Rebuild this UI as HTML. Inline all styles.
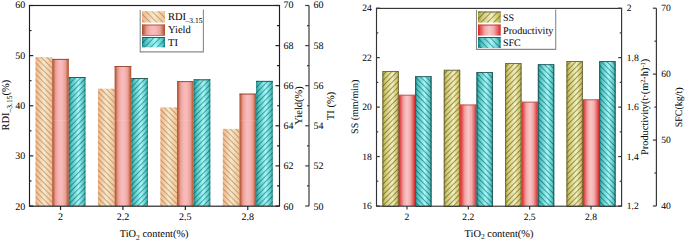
<!DOCTYPE html>
<html><head><meta charset="utf-8"><style>
html,body{margin:0;padding:0;background:#fff;}
body{width:685px;height:242px;overflow:hidden;}
svg{display:block;}
text{font-family:"Liberation Serif", serif;fill:#0a0a0a;stroke:#0a0a0a;stroke-width:0.05px;text-rendering:geometricPrecision;}
</style></head><body>
<svg width="685" height="242" viewBox="0 0 685 242">
<defs>
<linearGradient id="gOr" x1="0" x2="1" y1="0" y2="0">
 <stop offset="0" stop-color="#f4b482"/><stop offset="0.5" stop-color="#fbe7c6"/><stop offset="1" stop-color="#f5c292"/></linearGradient>
<linearGradient id="gYi" x1="0" x2="1" y1="0" y2="0">
 <stop offset="0" stop-color="#ac4e26"/><stop offset="0.08" stop-color="#c66646"/><stop offset="0.2" stop-color="#e89c94"/><stop offset="0.35" stop-color="#f4b3b1"/><stop offset="0.5" stop-color="#f8bcbc"/><stop offset="0.65" stop-color="#f4b3b1"/><stop offset="0.8" stop-color="#e89e96"/><stop offset="0.92" stop-color="#c66a4a"/><stop offset="1" stop-color="#ac5026"/></linearGradient>
<linearGradient id="gTe" x1="0" x2="1" y1="0" y2="0">
 <stop offset="0" stop-color="#1a8686"/><stop offset="0.15" stop-color="#4cc4c4"/><stop offset="0.58" stop-color="#a2fafa"/><stop offset="0.88" stop-color="#56caca"/><stop offset="1" stop-color="#1a8282"/></linearGradient>
<linearGradient id="gSS" x1="0" x2="1" y1="0" y2="0">
 <stop offset="0" stop-color="#aca032"/><stop offset="0.18" stop-color="#d2ca72"/><stop offset="0.6" stop-color="#f4f0ba"/><stop offset="0.88" stop-color="#d0c66a"/><stop offset="1" stop-color="#aa9e30"/></linearGradient>
<linearGradient id="gPr" x1="0" x2="1" y1="0" y2="0">
 <stop offset="0" stop-color="#d41e1e"/><stop offset="0.12" stop-color="#e25a5a"/><stop offset="0.3" stop-color="#f2a8a8"/><stop offset="0.5" stop-color="#f9c6c6"/><stop offset="0.7" stop-color="#f2aaaa"/><stop offset="0.88" stop-color="#e25e5e"/><stop offset="1" stop-color="#d42424"/></linearGradient>
<pattern id="lBackOr" patternUnits="userSpaceOnUse" width="4.5" height="4" patternTransform="rotate(-45)"><line x1="0.5" y1="0" x2="0.5" y2="4" stroke="#766a58" stroke-width="0.65" stroke-opacity="0.8"/></pattern>
<pattern id="lFwdTe" patternUnits="userSpaceOnUse" width="4.5" height="4" patternTransform="rotate(45)"><line x1="0.5" y1="0" x2="0.5" y2="4" stroke="#0b3636" stroke-width="0.65" stroke-opacity="0.75"/></pattern>
<pattern id="lFwdSS" patternUnits="userSpaceOnUse" width="4.5" height="4" patternTransform="rotate(45)"><line x1="0.5" y1="0" x2="0.5" y2="4" stroke="#33300f" stroke-width="0.65" stroke-opacity="0.75"/></pattern>
<pattern id="lBackTe" patternUnits="userSpaceOnUse" width="4.5" height="4" patternTransform="rotate(-45)"><line x1="0.5" y1="0" x2="0.5" y2="4" stroke="#0b3232" stroke-width="0.65" stroke-opacity="0.75"/></pattern>
<pattern id="hBackOr" patternUnits="userSpaceOnUse" width="3.95" height="4" patternTransform="rotate(-45)"><line x1="0.5" y1="0" x2="0.5" y2="4" stroke="#766a58" stroke-width="0.65" stroke-opacity="0.75"/></pattern>
<pattern id="hFwdTe" patternUnits="userSpaceOnUse" width="3.85" height="4" patternTransform="rotate(45)"><line x1="0.5" y1="0" x2="0.5" y2="4" stroke="#0b3636" stroke-width="0.65" stroke-opacity="0.75"/></pattern>
<pattern id="hFwdSS" patternUnits="userSpaceOnUse" width="3.85" height="4" patternTransform="rotate(45)"><line x1="0.5" y1="0" x2="0.5" y2="4" stroke="#33300f" stroke-width="0.65" stroke-opacity="0.75"/></pattern>
<pattern id="hBackTe" patternUnits="userSpaceOnUse" width="3.85" height="4" patternTransform="rotate(-45)"><line x1="0.5" y1="0" x2="0.5" y2="4" stroke="#0b3232" stroke-width="0.65" stroke-opacity="0.75"/></pattern>
</defs>
<rect x="35.54" y="57.1" width="16.65" height="148.9" fill="url(#gOr)"/><rect x="35.54" y="57.1" width="16.65" height="148.9" fill="url(#hBackOr)"/>
<rect x="52.19" y="58.9" width="16.65" height="147.1" fill="url(#gYi)"/><line x1="52.19" x2="68.84" y1="59.4" y2="59.4" stroke="#96503a" stroke-width="1"/>
<rect x="52.19" y="119.9" width="16.65" height="0.8" fill="#fff" fill-opacity="0.13"/>
<rect x="68.84" y="77" width="16.65" height="129" fill="url(#gTe)"/><rect x="68.84" y="77" width="16.65" height="129" fill="url(#hFwdTe)"/><line x1="68.84" x2="85.48" y1="77.5" y2="77.5" stroke="#2a5c5c" stroke-width="1"/>
<rect x="97.97" y="88.7" width="16.65" height="117.3" fill="url(#gOr)"/><rect x="97.97" y="88.7" width="16.65" height="117.3" fill="url(#hBackOr)"/>
<rect x="114.61" y="66" width="16.65" height="140" fill="url(#gYi)"/><line x1="114.61" x2="131.26" y1="66.5" y2="66.5" stroke="#96503a" stroke-width="1"/>
<rect x="114.61" y="119.9" width="16.65" height="0.8" fill="#fff" fill-opacity="0.13"/>
<rect x="131.26" y="78" width="16.65" height="128" fill="url(#gTe)"/><rect x="131.26" y="78" width="16.65" height="128" fill="url(#hFwdTe)"/><line x1="131.26" x2="147.91" y1="78.5" y2="78.5" stroke="#2a5c5c" stroke-width="1"/>
<rect x="160.39" y="107.4" width="16.65" height="98.6" fill="url(#gOr)"/><rect x="160.39" y="107.4" width="16.65" height="98.6" fill="url(#hBackOr)"/>
<rect x="177.04" y="81.1" width="16.65" height="124.9" fill="url(#gYi)"/><line x1="177.04" x2="193.69" y1="81.6" y2="81.6" stroke="#96503a" stroke-width="1"/>
<rect x="177.04" y="119.9" width="16.65" height="0.8" fill="#fff" fill-opacity="0.13"/>
<rect x="193.69" y="79.3" width="16.65" height="126.7" fill="url(#gTe)"/><rect x="193.69" y="79.3" width="16.65" height="126.7" fill="url(#hFwdTe)"/><line x1="193.69" x2="210.33" y1="79.8" y2="79.8" stroke="#2a5c5c" stroke-width="1"/>
<rect x="222.82" y="128.9" width="16.65" height="77.1" fill="url(#gOr)"/><rect x="222.82" y="128.9" width="16.65" height="77.1" fill="url(#hBackOr)"/>
<rect x="239.46" y="93.6" width="16.65" height="112.4" fill="url(#gYi)"/><line x1="239.46" x2="256.11" y1="94.1" y2="94.1" stroke="#96503a" stroke-width="1"/>
<rect x="239.46" y="119.9" width="16.65" height="0.8" fill="#fff" fill-opacity="0.13"/>
<rect x="256.11" y="80.9" width="16.65" height="125.1" fill="url(#gTe)"/><rect x="256.11" y="80.9" width="16.65" height="125.1" fill="url(#hFwdTe)"/><line x1="256.11" x2="272.76" y1="81.4" y2="81.4" stroke="#2a5c5c" stroke-width="1"/>
<rect x="29.5" y="5.5" width="250" height="200.7" fill="none" stroke="#1e1e1e" stroke-width="1.15"/>
<line x1="309" x2="309" y1="5.5" y2="206" stroke="#3a3a3a" stroke-width="1.2"/>
<line x1="29.3" x2="33.3" y1="5.5" y2="5.5" stroke="#222" stroke-width="1.2"/>
<text x="25.2" y="8.2" font-size="10" text-anchor="end">60</text>
<line x1="29.3" x2="33.3" y1="55.62" y2="55.62" stroke="#222" stroke-width="1.2"/>
<text x="25.2" y="59.02" font-size="10" text-anchor="end">50</text>
<line x1="29.3" x2="33.3" y1="105.75" y2="105.75" stroke="#222" stroke-width="1.2"/>
<text x="25.2" y="109.15" font-size="10" text-anchor="end">40</text>
<line x1="29.3" x2="33.3" y1="155.88" y2="155.88" stroke="#222" stroke-width="1.2"/>
<text x="25.2" y="159.28" font-size="10" text-anchor="end">30</text>
<line x1="29.3" x2="33.3" y1="206" y2="206" stroke="#222" stroke-width="1.2"/>
<text x="25.2" y="209.9" font-size="10" text-anchor="end">20</text>
<line x1="29.3" x2="31.5" y1="30.56" y2="30.56" stroke="#222" stroke-width="1.2"/>
<line x1="29.3" x2="31.5" y1="80.69" y2="80.69" stroke="#222" stroke-width="1.2"/>
<line x1="29.3" x2="31.5" y1="130.81" y2="130.81" stroke="#222" stroke-width="1.2"/>
<line x1="29.3" x2="31.5" y1="180.94" y2="180.94" stroke="#222" stroke-width="1.2"/>
<line x1="275.5" x2="279" y1="5.5" y2="5.5" stroke="#222" stroke-width="1.2"/>
<line x1="305.2" x2="309" y1="5.5" y2="5.5" stroke="#3a3a3a" stroke-width="1.2"/>
<text x="283.5" y="8.2" font-size="10" text-anchor="start">70</text>
<text x="313.6" y="8.2" font-size="10" text-anchor="start">60</text>
<line x1="275.5" x2="279" y1="45.6" y2="45.6" stroke="#222" stroke-width="1.2"/>
<line x1="305.2" x2="309" y1="45.6" y2="45.6" stroke="#3a3a3a" stroke-width="1.2"/>
<text x="283.5" y="49" font-size="10" text-anchor="start">68</text>
<text x="313.6" y="49" font-size="10" text-anchor="start">58</text>
<line x1="275.5" x2="279" y1="85.7" y2="85.7" stroke="#222" stroke-width="1.2"/>
<line x1="305.2" x2="309" y1="85.7" y2="85.7" stroke="#3a3a3a" stroke-width="1.2"/>
<text x="283.5" y="89.1" font-size="10" text-anchor="start">66</text>
<text x="313.6" y="89.1" font-size="10" text-anchor="start">56</text>
<line x1="275.5" x2="279" y1="125.8" y2="125.8" stroke="#222" stroke-width="1.2"/>
<line x1="305.2" x2="309" y1="125.8" y2="125.8" stroke="#3a3a3a" stroke-width="1.2"/>
<text x="283.5" y="129.2" font-size="10" text-anchor="start">64</text>
<text x="313.6" y="129.2" font-size="10" text-anchor="start">54</text>
<line x1="275.5" x2="279" y1="165.9" y2="165.9" stroke="#222" stroke-width="1.2"/>
<line x1="305.2" x2="309" y1="165.9" y2="165.9" stroke="#3a3a3a" stroke-width="1.2"/>
<text x="283.5" y="169.3" font-size="10" text-anchor="start">62</text>
<text x="313.6" y="169.3" font-size="10" text-anchor="start">52</text>
<line x1="275.5" x2="279" y1="206" y2="206" stroke="#222" stroke-width="1.2"/>
<line x1="305.2" x2="309" y1="206" y2="206" stroke="#3a3a3a" stroke-width="1.2"/>
<text x="283.5" y="209.9" font-size="10" text-anchor="start">60</text>
<text x="313.6" y="209.9" font-size="10" text-anchor="start">50</text>
<line x1="277" x2="279" y1="25.55" y2="25.55" stroke="#222" stroke-width="1.2"/>
<line x1="307" x2="309" y1="25.55" y2="25.55" stroke="#3a3a3a" stroke-width="1.2"/>
<line x1="277" x2="279" y1="65.65" y2="65.65" stroke="#222" stroke-width="1.2"/>
<line x1="307" x2="309" y1="65.65" y2="65.65" stroke="#3a3a3a" stroke-width="1.2"/>
<line x1="277" x2="279" y1="105.75" y2="105.75" stroke="#222" stroke-width="1.2"/>
<line x1="307" x2="309" y1="105.75" y2="105.75" stroke="#3a3a3a" stroke-width="1.2"/>
<line x1="277" x2="279" y1="145.85" y2="145.85" stroke="#222" stroke-width="1.2"/>
<line x1="307" x2="309" y1="145.85" y2="145.85" stroke="#3a3a3a" stroke-width="1.2"/>
<line x1="277" x2="279" y1="185.95" y2="185.95" stroke="#222" stroke-width="1.2"/>
<line x1="307" x2="309" y1="185.95" y2="185.95" stroke="#3a3a3a" stroke-width="1.2"/>
<line x1="60.51" x2="60.51" y1="206" y2="210" stroke="#222" stroke-width="1.2"/>
<text x="60.51" y="220.3" font-size="10" text-anchor="middle">2</text>
<line x1="122.94" x2="122.94" y1="206" y2="210" stroke="#222" stroke-width="1.2"/>
<text x="122.94" y="220.3" font-size="10" text-anchor="middle">2.2</text>
<line x1="185.36" x2="185.36" y1="206" y2="210" stroke="#222" stroke-width="1.2"/>
<text x="185.36" y="220.3" font-size="10" text-anchor="middle">2.5</text>
<line x1="247.79" x2="247.79" y1="206" y2="210" stroke="#222" stroke-width="1.2"/>
<text x="247.79" y="220.3" font-size="10" text-anchor="middle">2.8</text>
<text x="154.15" y="237" font-size="10.4" text-anchor="middle">TiO<tspan font-size="7.5" dy="2.7">2</tspan><tspan dy="-2.7"> content(%)</tspan></text>
<text x="9.3" y="105.2" font-size="10.5" text-anchor="middle" transform="rotate(-90 9.3 105.2)">RDI<tspan font-size="7.5" dy="2.8">–3.15</tspan><tspan dy="-2.8">(%)</tspan></text>
<text x="302.2" y="105.4" font-size="10.5" text-anchor="middle" transform="rotate(-90 302.2 105.4)">Yield(%)</text>
<text x="334.2" y="106" font-size="10.5" text-anchor="middle" transform="rotate(-90 334.2 106)">TI (%)</text>
<rect x="140" y="9.5" width="63.4" height="42.4" fill="#fff"/>
<path d="M140.2 10 V51.9 H203.4 V9.5" fill="none" stroke="#8a8a8a" stroke-width="1.1"/>
<rect x="142" y="11.2" width="23" height="11.3" fill="url(#gOr)"/><rect x="142" y="11.2" width="23" height="11.3" fill="url(#lBackOr)"/>
<rect x="142" y="24.6" width="23" height="10.3" fill="url(#gYi)"/><rect x="142.45" y="25.05" width="22.1" height="10.3" fill="none" stroke="#a45a3c" stroke-width="0.9"/>
<rect x="142" y="37" width="23" height="10.3" fill="url(#gTe)"/><rect x="142" y="37" width="23" height="10.3" fill="url(#lFwdTe)"/><line x1="142" x2="165" y1="37.5" y2="37.5" stroke="#2a5a5a" stroke-width="1"/>
<text x="168" y="20.3" font-size="10.5" text-anchor="start">RDI<tspan font-size="7.5" dy="2.8" dx="-0.5">–3.15</tspan></text>
<text x="168" y="32.7" font-size="10.5" text-anchor="start">Yield</text>
<text x="168" y="45.8" font-size="10.5" text-anchor="start">TI</text>
<rect x="382.44" y="71" width="16.36" height="135" fill="url(#gSS)"/><rect x="382.44" y="71" width="16.36" height="135" fill="url(#hFwdSS)"/><rect x="382.88" y="71.45" width="15.46" height="135" fill="none" stroke="#6a6844" stroke-width="0.9"/>
<rect x="398.8" y="94.75" width="16.36" height="111.25" fill="url(#gPr)"/><line x1="398.8" x2="415.16" y1="95.25" y2="95.25" stroke="#c86060" stroke-width="1"/>
<rect x="415.16" y="76.2" width="16.36" height="129.8" fill="url(#gTe)"/><rect x="415.16" y="76.2" width="16.36" height="129.8" fill="url(#hBackTe)"/><rect x="415.61" y="76.65" width="15.46" height="129.8" fill="none" stroke="#2a5a5a" stroke-width="0.9"/>
<rect x="443.79" y="69.8" width="16.36" height="136.2" fill="url(#gSS)"/><rect x="443.79" y="69.8" width="16.36" height="136.2" fill="url(#hFwdSS)"/><rect x="444.24" y="70.25" width="15.46" height="136.2" fill="none" stroke="#6a6844" stroke-width="0.9"/>
<rect x="460.15" y="104.5" width="16.36" height="101.5" fill="url(#gPr)"/><line x1="460.15" x2="476.51" y1="105" y2="105" stroke="#c86060" stroke-width="1"/>
<rect x="476.51" y="72" width="16.36" height="134" fill="url(#gTe)"/><rect x="476.51" y="72" width="16.36" height="134" fill="url(#hBackTe)"/><rect x="476.96" y="72.45" width="15.46" height="134" fill="none" stroke="#2a5a5a" stroke-width="0.9"/>
<rect x="505.14" y="63.05" width="16.36" height="142.95" fill="url(#gSS)"/><rect x="505.14" y="63.05" width="16.36" height="142.95" fill="url(#hFwdSS)"/><rect x="505.59" y="63.5" width="15.46" height="142.95" fill="none" stroke="#6a6844" stroke-width="0.9"/>
<rect x="521.5" y="101.7" width="16.36" height="104.3" fill="url(#gPr)"/><line x1="521.5" x2="537.86" y1="102.2" y2="102.2" stroke="#c86060" stroke-width="1"/>
<rect x="537.86" y="64.2" width="16.36" height="141.8" fill="url(#gTe)"/><rect x="537.86" y="64.2" width="16.36" height="141.8" fill="url(#hBackTe)"/><rect x="538.31" y="64.65" width="15.46" height="141.8" fill="none" stroke="#2a5a5a" stroke-width="0.9"/>
<rect x="566.49" y="61" width="16.36" height="145" fill="url(#gSS)"/><rect x="566.49" y="61" width="16.36" height="145" fill="url(#hFwdSS)"/><rect x="566.94" y="61.45" width="15.46" height="145" fill="none" stroke="#6a6844" stroke-width="0.9"/>
<rect x="582.85" y="99.3" width="16.36" height="106.7" fill="url(#gPr)"/><line x1="582.85" x2="599.21" y1="99.8" y2="99.8" stroke="#c86060" stroke-width="1"/>
<rect x="599.21" y="61.1" width="16.36" height="144.9" fill="url(#gTe)"/><rect x="599.21" y="61.1" width="16.36" height="144.9" fill="url(#hBackTe)"/><rect x="599.66" y="61.55" width="15.46" height="144.9" fill="none" stroke="#2a5a5a" stroke-width="0.9"/>
<rect x="376.5" y="8.4" width="245.1" height="197.8" fill="none" stroke="#333" stroke-width="1.15"/>
<line x1="656.4" x2="656.4" y1="8.2" y2="206" stroke="#3a3a3a" stroke-width="1.2"/>
<line x1="376.3" x2="379.8" y1="8.2" y2="8.2" stroke="#3a3a3a" stroke-width="1.2"/>
<line x1="618.2" x2="621.7" y1="8.2" y2="8.2" stroke="#3a3a3a" stroke-width="1.2"/>
<text x="371.9" y="10.7" font-size="9.6" text-anchor="end">24</text>
<text x="626.8" y="10.7" font-size="9.6" text-anchor="start">2</text>
<line x1="376.3" x2="379.8" y1="57.65" y2="57.65" stroke="#3a3a3a" stroke-width="1.2"/>
<line x1="618.2" x2="621.7" y1="57.65" y2="57.65" stroke="#3a3a3a" stroke-width="1.2"/>
<text x="371.9" y="60.75" font-size="9.6" text-anchor="end">22</text>
<text x="626.8" y="60.75" font-size="9.6" text-anchor="start">1.8</text>
<line x1="376.3" x2="379.8" y1="107.1" y2="107.1" stroke="#3a3a3a" stroke-width="1.2"/>
<line x1="618.2" x2="621.7" y1="107.1" y2="107.1" stroke="#3a3a3a" stroke-width="1.2"/>
<text x="371.9" y="110.2" font-size="9.6" text-anchor="end">20</text>
<text x="626.8" y="110.2" font-size="9.6" text-anchor="start">1.6</text>
<line x1="376.3" x2="379.8" y1="156.55" y2="156.55" stroke="#3a3a3a" stroke-width="1.2"/>
<line x1="618.2" x2="621.7" y1="156.55" y2="156.55" stroke="#3a3a3a" stroke-width="1.2"/>
<text x="371.9" y="159.65" font-size="9.6" text-anchor="end">18</text>
<text x="626.8" y="159.65" font-size="9.6" text-anchor="start">1.4</text>
<line x1="376.3" x2="379.8" y1="206" y2="206" stroke="#3a3a3a" stroke-width="1.2"/>
<line x1="618.2" x2="621.7" y1="206" y2="206" stroke="#3a3a3a" stroke-width="1.2"/>
<text x="371.9" y="209.1" font-size="9.6" text-anchor="end">16</text>
<text x="626.8" y="209.1" font-size="9.6" text-anchor="start">1.2</text>
<line x1="376.3" x2="378.3" y1="32.92" y2="32.92" stroke="#3a3a3a" stroke-width="1.2"/>
<line x1="619.7" x2="621.7" y1="32.92" y2="32.92" stroke="#3a3a3a" stroke-width="1.2"/>
<line x1="376.3" x2="378.3" y1="82.38" y2="82.38" stroke="#3a3a3a" stroke-width="1.2"/>
<line x1="619.7" x2="621.7" y1="82.38" y2="82.38" stroke="#3a3a3a" stroke-width="1.2"/>
<line x1="376.3" x2="378.3" y1="131.82" y2="131.82" stroke="#3a3a3a" stroke-width="1.2"/>
<line x1="619.7" x2="621.7" y1="131.82" y2="131.82" stroke="#3a3a3a" stroke-width="1.2"/>
<line x1="376.3" x2="378.3" y1="181.28" y2="181.28" stroke="#3a3a3a" stroke-width="1.2"/>
<line x1="619.7" x2="621.7" y1="181.28" y2="181.28" stroke="#3a3a3a" stroke-width="1.2"/>
<line x1="652.9" x2="656.4" y1="8.2" y2="8.2" stroke="#3a3a3a" stroke-width="1.2"/>
<text x="661.3" y="10.7" font-size="9.6" text-anchor="start">70</text>
<line x1="652.9" x2="656.4" y1="74.13" y2="74.13" stroke="#3a3a3a" stroke-width="1.2"/>
<text x="661.3" y="77.23" font-size="9.6" text-anchor="start">60</text>
<line x1="652.9" x2="656.4" y1="140.07" y2="140.07" stroke="#3a3a3a" stroke-width="1.2"/>
<text x="661.3" y="143.17" font-size="9.6" text-anchor="start">50</text>
<line x1="652.9" x2="656.4" y1="206" y2="206" stroke="#3a3a3a" stroke-width="1.2"/>
<text x="661.3" y="209.1" font-size="9.6" text-anchor="start">40</text>
<line x1="654.4" x2="656.4" y1="41.17" y2="41.17" stroke="#3a3a3a" stroke-width="1.2"/>
<line x1="654.4" x2="656.4" y1="107.1" y2="107.1" stroke="#3a3a3a" stroke-width="1.2"/>
<line x1="654.4" x2="656.4" y1="173.03" y2="173.03" stroke="#3a3a3a" stroke-width="1.2"/>
<line x1="406.98" x2="406.98" y1="206" y2="209.5" stroke="#3a3a3a" stroke-width="1.2"/>
<text x="406.98" y="220.3" font-size="9.6" text-anchor="middle">2</text>
<line x1="468.33" x2="468.33" y1="206" y2="209.5" stroke="#3a3a3a" stroke-width="1.2"/>
<text x="468.33" y="220.3" font-size="9.6" text-anchor="middle">2.2</text>
<line x1="529.68" x2="529.68" y1="206" y2="209.5" stroke="#3a3a3a" stroke-width="1.2"/>
<text x="529.68" y="220.3" font-size="9.6" text-anchor="middle">2.5</text>
<line x1="591.03" x2="591.03" y1="206" y2="209.5" stroke="#3a3a3a" stroke-width="1.2"/>
<text x="591.03" y="220.3" font-size="9.6" text-anchor="middle">2.8</text>
<text x="499" y="236.6" font-size="10.4" text-anchor="middle">TiO<tspan font-size="7.5" dy="2.7">2</tspan><tspan dy="-2.7"> content(%)</tspan></text>
<text x="358" y="106.8" font-size="10" text-anchor="middle" transform="rotate(-90 358 106.8)">SS (mm/min)</text>
<text x="648.4" y="106.8" font-size="10.3" text-anchor="middle" transform="rotate(-90 648.4 106.8)">Productivity(t·(m<tspan font-size="6.5" dy="-3.5">2</tspan><tspan dy="3.5">·h)</tspan><tspan font-size="6.5" dy="-3.5">-1</tspan><tspan dy="3.5">)</tspan></text>
<text x="681.6" y="107.3" font-size="10" text-anchor="middle" transform="rotate(-90 681.6 107.3)">SFC(kg/t)</text>
<rect x="476.5" y="9.6" width="79.2" height="39.8" fill="#fff"/>
<path d="M476.5 10 V49.4 H555.7 V9.6" fill="none" stroke="#8a8a8a" stroke-width="1.1"/>
<rect x="478" y="11.5" width="22.7" height="11" fill="url(#gSS)"/><rect x="478" y="11.5" width="22.7" height="11" fill="url(#lFwdSS)"/><line x1="478" x2="500.7" y1="12" y2="12" stroke="#6a6844" stroke-width="1"/>
<rect x="478" y="24.6" width="22.7" height="11" fill="url(#gPr)"/><line x1="478" x2="500.7" y1="25.1" y2="25.1" stroke="#c04848" stroke-width="1"/>
<rect x="478" y="37" width="22.7" height="11" fill="url(#gTe)"/><rect x="478" y="37" width="22.7" height="11" fill="url(#lBackTe)"/><line x1="478" x2="500.7" y1="37.5" y2="37.5" stroke="#2a5a5a" stroke-width="1"/>
<text x="503" y="21.1" font-size="10" text-anchor="start">SS</text>
<text x="503" y="33.9" font-size="10.2" text-anchor="start">Productivity</text>
<text x="503" y="45.7" font-size="10" text-anchor="start">SFC</text>
</svg>
</body></html>
